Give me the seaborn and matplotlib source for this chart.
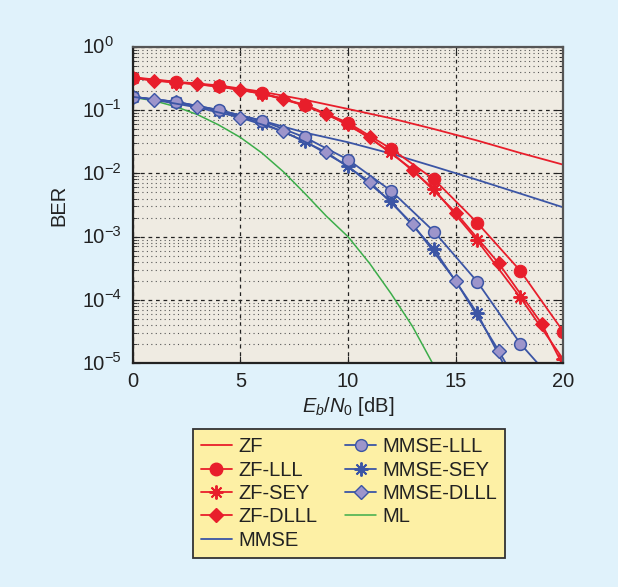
import numpy as np
import pandas as pd
import matplotlib
matplotlib.use("Agg")
import matplotlib.pyplot as plt
from matplotlib.lines import Line2D
from matplotlib.ticker import LogLocator
from matplotlib.transforms import offset_copy
import seaborn as sns

# ---------------- data ----------------
x_even = [0, 2, 4, 6, 8, 10, 12, 14, 16, 18, 20]
x_dlll = [0, 1, 3, 5, 7, 9, 11, 13, 15, 17, 19, 20]
x_mmse_dlll = [0, 1, 3, 5, 7, 9, 11, 13, 15, 17, 18]
x_ml = [0, 1, 2, 3, 4, 5, 6, 7, 8, 9, 10, 11, 12, 13, 14]

zf = [0.33, 0.28, 0.245, 0.195, 0.145, 0.104, 0.074, 0.05, 0.033, 0.021, 0.0137]
zf_lll = [0.324, 0.275, 0.24, 0.185, 0.121, 0.063, 0.0245, 0.008, 0.00166, 2.9e-4, 3.16e-5]
zf_sey = [0.32, 0.272, 0.236, 0.182, 0.118, 0.06, 0.0215, 0.0056, 8.7e-4, 1.1e-4, 1.15e-5]
zf_dlll = [0.324, 0.29, 0.258, 0.21, 0.152, 0.088, 0.037, 0.0115, 0.0024, 3.8e-4, 4.2e-5, 9e-6]

mmse = [0.16, 0.135, 0.1, 0.068, 0.044, 0.031, 0.0205, 0.0128, 0.0079, 0.0048, 0.0029]
mmse_lll = [0.162, 0.135, 0.1, 0.0678, 0.037, 0.0165, 0.0053, 0.0012, 1.95e-4, 2.05e-5, 3.5e-6]
mmse_sey = [0.162, 0.134, 0.098, 0.063, 0.032, 0.013, 0.0036, 6.3e-4, 6.2e-5, 3e-6, 1e-7]
mmse_dlll = [0.162, 0.145, 0.11, 0.076, 0.046, 0.0215, 0.0074, 0.00159, 2.0e-4, 1.58e-5, 4e-6]

ml = [0.159, 0.14, 0.113, 0.085, 0.058, 0.037, 0.021, 0.0106, 0.0048, 0.0021,
      0.001, 3.8e-4, 1.26e-4, 3.8e-5, 9e-6]

x_ticks = [0, 5, 10, 15, 20]
y_exponents = [0, -1, -2, -3, -4, -5]

# ---------------- style ----------------
RED = "#e81e2b"
BLUE = "#3b55a5"
LAV = "#9d95cb"
GREEN = "#3cad4a"
FIG_BG = "#e0f2fb"
AX_BG = "#efebe2"
LEG_BG = "#fdf0a5"
TXT = "#222222"
FS = 14.5
ASTER = (8, 2, 0)

sns.set_style("ticks")
plt.rcParams["font.family"] = ["Liberation Sans", "DejaVu Sans"]
plt.rcParams["mathtext.fontset"] = "custom"
plt.rcParams["mathtext.rm"] = "Liberation Sans"
plt.rcParams["mathtext.it"] = "Liberation Sans:italic"
plt.rcParams["mathtext.bf"] = "Liberation Sans:bold"

fig = plt.figure(figsize=(6.18, 5.87), dpi=100, facecolor=FIG_BG)
ax = fig.add_axes([0.2147, 0.3811, 0.6968, 0.5393])
ax.set_facecolor(AX_BG)

def draw(xs, ys, color, **kw):
    df = pd.DataFrame({"x": xs, "y": ys})
    sns.lineplot(data=df, x="x", y="y", ax=ax, color=color, sort=False,
                 estimator=None, legend=False, **kw)

lw = 1.3
draw(x_even, zf, RED, linewidth=lw)
draw(x_even, mmse, BLUE, linewidth=lw)
draw(x_ml, ml, GREEN, linewidth=1.1)
draw(x_even, zf_sey, RED, linewidth=lw, marker=ASTER, markersize=10,
     markerfacecolor=RED, markeredgecolor=RED, markeredgewidth=1.4)
draw(x_even, zf_lll, RED, linewidth=lw, marker="o", markersize=9,
     markerfacecolor=RED, markeredgecolor=RED)
draw(x_dlll, zf_dlll, RED, linewidth=lw, marker="D", markersize=7.5,
     markerfacecolor=RED, markeredgecolor=RED, markevery=list(range(1, 11)))
draw(x_even, mmse_sey, BLUE, linewidth=lw, marker=ASTER, markersize=10,
     markerfacecolor=BLUE, markeredgecolor=BLUE, markeredgewidth=1.4)
draw(x_even, mmse_lll, BLUE, linewidth=lw, marker="o", markersize=8.5,
     markerfacecolor=LAV, markeredgecolor=BLUE, markeredgewidth=1.1)
draw(x_mmse_dlll, mmse_dlll, BLUE, linewidth=lw, marker="D", markersize=7.5,
     markerfacecolor=LAV, markeredgecolor=BLUE, markeredgewidth=1.0,
     markevery=list(range(1, 10)))

ax.set_yscale("log")
ax.set_xlim(0, 20)
ax.set_ylim(1e-5, 1)
ax.set_xticks(x_ticks)
ax.yaxis.set_major_locator(LogLocator(base=10, numticks=10))
ax.yaxis.set_minor_locator(LogLocator(base=10, subs=np.arange(2, 10), numticks=20))

ax.grid(which="major", axis="both", linestyle=(0, (3, 3)), color="#222222", linewidth=0.9)
ax.grid(which="minor", axis="y", linestyle=(0, (1, 3)), color="#555555", linewidth=0.8)
ax.set_axisbelow(True)

ax.tick_params(which="both", direction="in", top=True, right=True, labelsize=FS,
               colors=TXT)
ax.tick_params(which="major", length=5)
ax.tick_params(which="minor", length=3)
ax.tick_params(axis="x", which="both", pad=6)
ax.tick_params(axis="y", which="both", labelleft=False)
for s in ax.spines.values():
    s.set_linewidth(1.6)
    s.set_color("#222222")
ax.spines["top"].set_color("#555555")
ax.spines["right"].set_color("#555555")

# y tick labels: "10" with a large superscript exponent (MATLAB style)
ytr = ax.get_yaxis_transform()
for e in y_exponents:
    yv = 10.0 ** e
    ax.text(0, yv, "10", fontsize=FS, color=TXT, ha="right", va="baseline",
            transform=offset_copy(ytr, fig, x=-27.5, y=-6.7, units="dots"),
            clip_on=False)
    ax.text(0, yv, str(e).replace("-", "\u2212"), fontsize=10.5, color=TXT,
            ha="left", va="baseline",
            transform=offset_copy(ytr, fig, x=-28.0, y=0.8, units="dots"),
            clip_on=False)

ax.set_xlabel(r"$E_b/N_0$ [dB]", fontsize=FS, labelpad=3, color=TXT)
ax.set_ylabel("BER", fontsize=FS, color=TXT)
ax.yaxis.set_label_coords(-0.149, 0.5)

handles = [
    Line2D([], [], color=RED, lw=lw),
    Line2D([], [], color=RED, lw=lw, marker="o", ms=9, mfc=RED, mec=RED),
    Line2D([], [], color=RED, lw=lw, marker=ASTER, ms=10, mfc=RED, mec=RED, mew=1.4),
    Line2D([], [], color=RED, lw=lw, marker="D", ms=7.5, mfc=RED, mec=RED),
    Line2D([], [], color=BLUE, lw=lw),
    Line2D([], [], color=BLUE, lw=lw, marker="o", ms=8.5, mfc=LAV, mec=BLUE),
    Line2D([], [], color=BLUE, lw=lw, marker=ASTER, ms=10, mfc=BLUE, mec=BLUE, mew=1.4),
    Line2D([], [], color=BLUE, lw=lw, marker="D", ms=7.5, mfc=LAV, mec=BLUE),
    Line2D([], [], color=GREEN, lw=1.1),
]
labels = ["ZF", "ZF-LLL", "ZF-SEY", "ZF-DLLL", "MMSE",
          "MMSE-LLL", "MMSE-SEY", "MMSE-DLLL", "ML"]
leg = fig.legend(handles, labels, loc="upper center", bbox_to_anchor=(0.5647, 0.2862),
                 ncol=2, fontsize=FS, frameon=True, fancybox=False, framealpha=1,
                 facecolor=LEG_BG, edgecolor="#333333", numpoints=1,
                 handlelength=1.55, handletextpad=0.3, columnspacing=1.4,
                 labelspacing=0.22, borderpad=0.4)
leg.get_frame().set_linewidth(1.3)
for t in leg.get_texts():
    t.set_color(TXT)

fig.savefig("out.png", dpi=100, facecolor=FIG_BG)
